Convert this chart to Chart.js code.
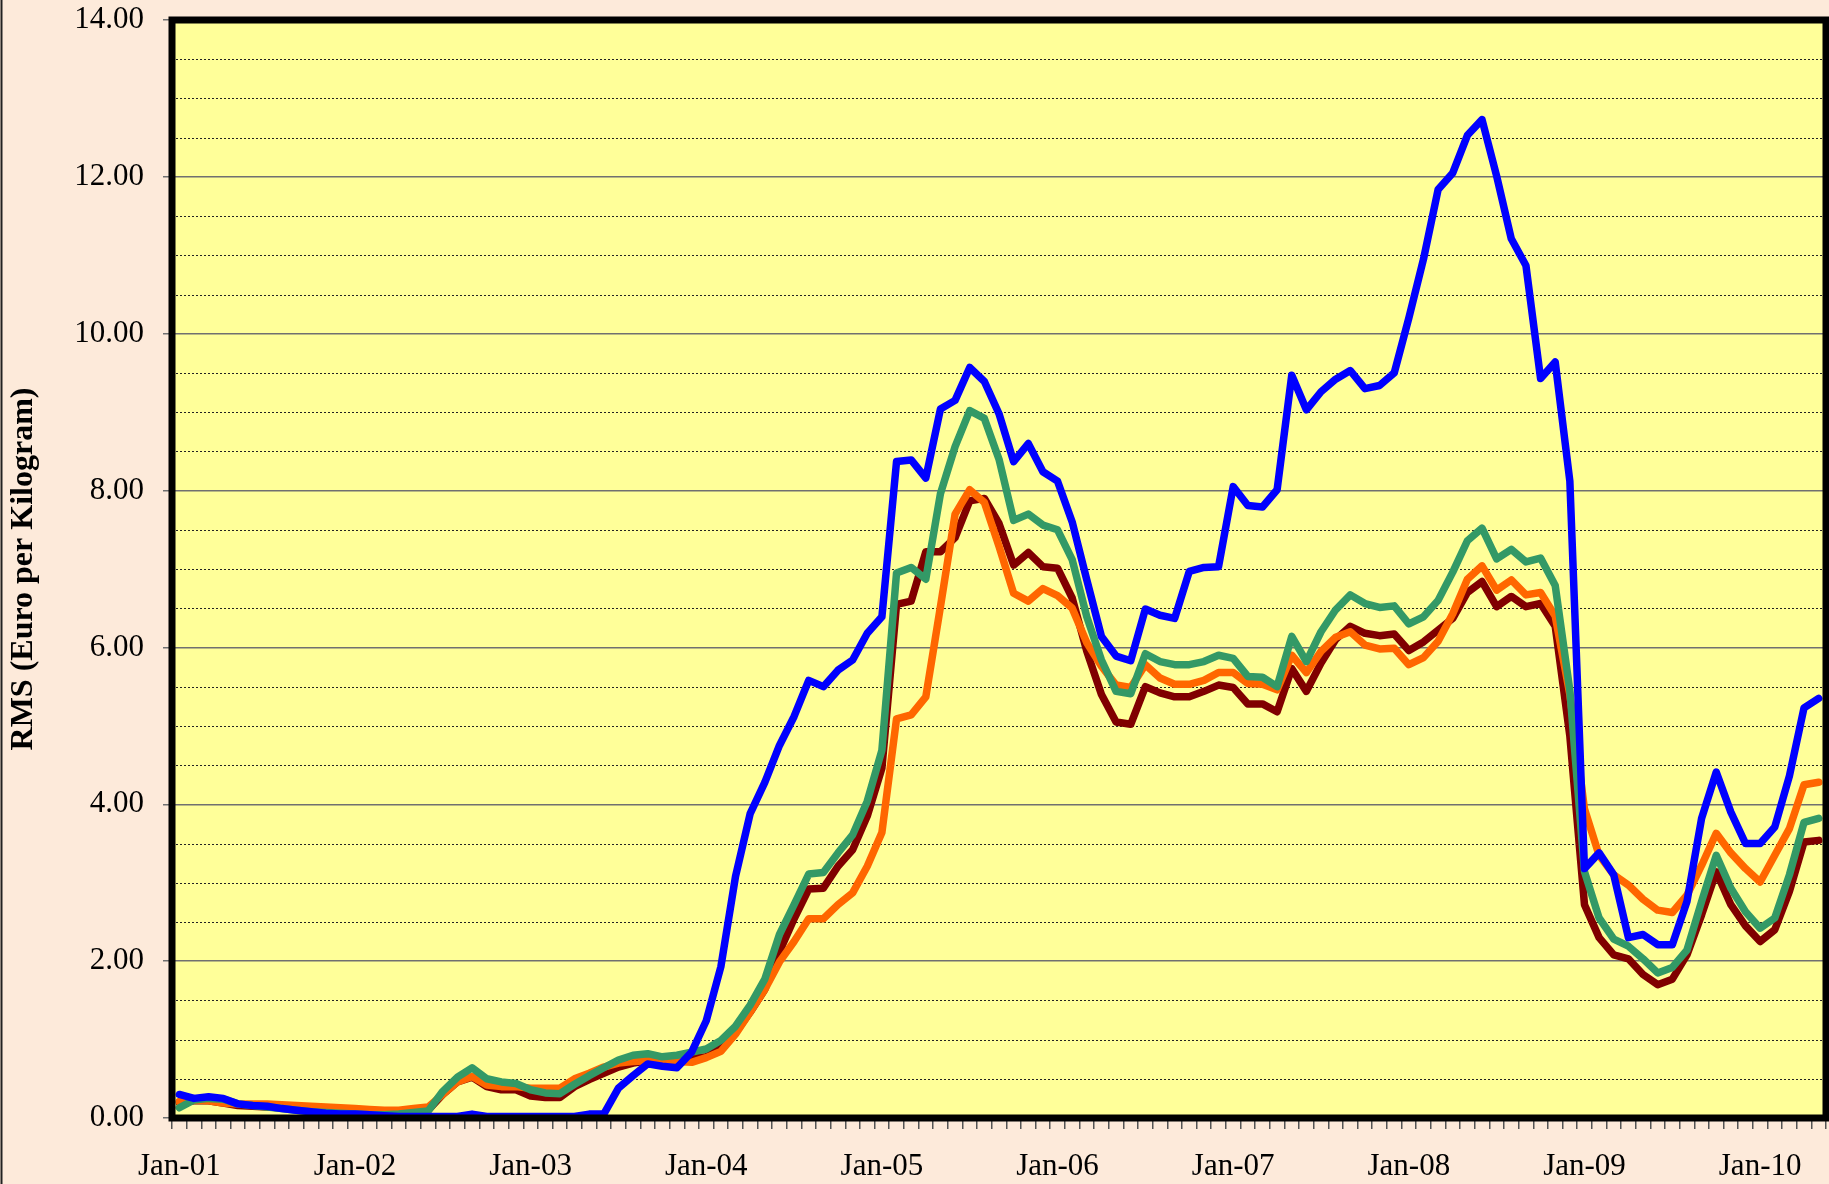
<!DOCTYPE html>
<html>
<head>
<meta charset="utf-8">
<title>RMS</title>
<script src="https://cdn.jsdelivr.net/npm/chart.js@4.4.0/dist/chart.umd.min.js"></script>
<style>
    html, body { margin: 0; padding: 0; background: #FDEADA; }
    canvas { display: block; }
</style>
</head>
<body>
<canvas id="rms-chart" width="1829" height="1184"></canvas>
<script>
// Datos mensuales, Jan-01 .. May-10
const meses = ['Jan', 'Feb', 'Mar', 'Apr', 'May', 'Jun', 'Jul', 'Aug', 'Sep', 'Oct', 'Nov', 'Dec'];
const anios = ['01', '02', '03', '04', '05', '06', '07', '08', '09', '10'];
const totalMeses = 113;

const serieAzul = [
    0.30, 0.25, 0.27, 0.25, 0.18, 0.16, 0.15, 0.12, 0.10, 0.08, 0.06, 0.05,
    0.05, 0.04, 0.03, 0.02, 0.02, 0.02, 0.02, 0.02, 0.05, 0.02, 0.02, 0.02,
    0.02, 0.02, 0.02, 0.02, 0.05, 0.05, 0.38, 0.54, 0.69, 0.66, 0.64, 0.84,
    1.24, 1.93, 3.08, 3.88, 4.28, 4.75, 5.12, 5.58, 5.50, 5.71, 5.84, 6.18,
    6.39, 8.37, 8.39, 8.16, 9.04, 9.15, 9.57, 9.39, 8.98, 8.37, 8.60, 8.24,
    8.12, 7.60, 6.86, 6.14, 5.89, 5.83, 6.49, 6.41, 6.37, 6.97, 7.02, 7.03,
    8.05, 7.81, 7.79, 8.01, 9.47, 9.03, 9.26, 9.42, 9.53, 9.30, 9.34, 9.50,
    10.20, 10.95, 11.84, 12.05, 12.53, 12.73, 12.01, 11.21, 10.87, 9.43, 9.64, 8.12,
    3.18, 3.38, 3.10, 2.30, 2.34, 2.21, 2.21, 2.76, 3.82, 4.41, 3.90, 3.50,
    3.50, 3.71, 4.36, 5.23, 5.35
];

const serieVerde = [
    0.13, 0.23, 0.25, 0.24, 0.18, 0.16, 0.14, 0.12, 0.10, 0.08, 0.07, 0.06,
    0.05, 0.04, 0.04, 0.05, 0.07, 0.09, 0.34, 0.52, 0.64, 0.50, 0.46, 0.44,
    0.36, 0.32, 0.31, 0.43, 0.54, 0.64, 0.74, 0.80, 0.82, 0.78, 0.80, 0.84,
    0.88, 0.99, 1.17, 1.44, 1.77, 2.34, 2.72, 3.11, 3.13, 3.38, 3.61, 4.04,
    4.69, 6.95, 7.02, 6.87, 7.96, 8.56, 9.02, 8.92, 8.40, 7.62, 7.70, 7.56,
    7.50, 7.12, 6.39, 5.84, 5.44, 5.41, 5.92, 5.82, 5.78, 5.78, 5.82, 5.90,
    5.86, 5.63, 5.62, 5.50, 6.14, 5.82, 6.20, 6.48, 6.67, 6.56, 6.51, 6.53,
    6.30, 6.39, 6.60, 6.96, 7.36, 7.52, 7.13, 7.25, 7.09, 7.14, 6.79, 5.45,
    3.14, 2.55, 2.28, 2.19, 2.03, 1.85, 1.92, 2.14, 2.76, 3.35, 2.93, 2.63,
    2.42, 2.55, 3.10, 3.77, 3.82
];

const serieNaranja = [
    0.21, 0.23, 0.22, 0.19, 0.18, 0.18, 0.18, 0.17, 0.16, 0.15, 0.14, 0.13,
    0.12, 0.11, 0.10, 0.10, 0.12, 0.14, 0.30, 0.46, 0.53, 0.42, 0.40, 0.40,
    0.38, 0.38, 0.38, 0.50, 0.57, 0.65, 0.70, 0.72, 0.73, 0.74, 0.72, 0.71,
    0.77, 0.85, 1.07, 1.35, 1.64, 1.99, 2.25, 2.54, 2.54, 2.72, 2.87, 3.21,
    3.64, 5.09, 5.14, 5.37, 6.52, 7.70, 8.01, 7.85, 7.29, 6.69, 6.59, 6.75,
    6.66, 6.50, 6.06, 5.76, 5.52, 5.49, 5.78, 5.61, 5.53, 5.53, 5.58, 5.68,
    5.68, 5.54, 5.53, 5.46, 5.90, 5.68, 5.95, 6.13, 6.20, 6.03, 5.98, 5.99,
    5.78, 5.87, 6.08, 6.43, 6.87, 7.04, 6.73, 6.86, 6.67, 6.70, 6.40, 5.40,
    3.94, 3.35, 3.10, 2.97, 2.79, 2.65, 2.62, 2.84, 3.22, 3.63, 3.38, 3.18,
    3.01, 3.35, 3.69, 4.25, 4.28
];

const serieGranate = [
    0.20, 0.22, 0.22, 0.19, 0.16, 0.15, 0.14, 0.13, 0.12, 0.11, 0.10, 0.09,
    0.08, 0.07, 0.07, 0.07, 0.09, 0.10, 0.30, 0.46, 0.52, 0.40, 0.36, 0.36,
    0.28, 0.26, 0.26, 0.40, 0.49, 0.57, 0.65, 0.70, 0.73, 0.75, 0.74, 0.76,
    0.78, 0.90, 1.09, 1.35, 1.64, 2.12, 2.54, 2.92, 2.93, 3.21, 3.42, 3.85,
    4.46, 6.55, 6.59, 7.22, 7.22, 7.40, 7.87, 7.90, 7.58, 7.05, 7.21, 7.03,
    7.01, 6.63, 5.95, 5.40, 5.05, 5.02, 5.50, 5.42, 5.37, 5.37, 5.44, 5.52,
    5.49, 5.28, 5.28, 5.18, 5.73, 5.44, 5.80, 6.10, 6.27, 6.18, 6.15, 6.17,
    5.96, 6.07, 6.22, 6.37, 6.70, 6.84, 6.52, 6.65, 6.52, 6.56, 6.27, 4.87,
    2.72, 2.30, 2.08, 2.03, 1.83, 1.70, 1.77, 2.08, 2.59, 3.14, 2.72, 2.45,
    2.25, 2.40, 2.89, 3.52, 3.54
];

const categorias = [];
for (let a = 0; a < anios.length; a++) {
    for (let m = 0; m < meses.length; m++) {
        if (categorias.length < totalMeses) categorias.push(meses[m] + '-' + anios[a]);
    }
}

const fuente = 'Liberation Serif, Times New Roman, serif';

// fondo, rejilla menor punteada y marco grueso
const marcoPlugin = {
    id: 'marco',
    beforeDraw(chart) {
        const { ctx, chartArea: a } = chart;
        ctx.save();
        ctx.fillStyle = '#FDEADA';
        ctx.fillRect(0, 0, chart.width, chart.height);
        ctx.fillStyle = '#FFFF99';
        ctx.fillRect(a.left, a.top, a.right - a.left, a.bottom - a.top);
        ctx.restore();
    },
    beforeDatasetsDraw(chart) {
        const { ctx, chartArea: a } = chart;
        const y = chart.scales.y;
        ctx.save();
        ctx.strokeStyle = '#222';
        ctx.lineWidth = 1;
        ctx.setLineDash([2, 2]);
        for (let v = 0.5; v < 14; v += 0.5) {
            if (v % 2 === 0) continue;
            const py = Math.round(y.getPixelForValue(v)) + 0.5;
            ctx.beginPath();
            ctx.moveTo(a.left, py);
            ctx.lineTo(a.right, py);
            ctx.stroke();
        }
        ctx.restore();
    },
    afterDraw(chart) {
        const { ctx, chartArea: a } = chart;
        ctx.save();
        ctx.strokeStyle = '#000';
        ctx.lineWidth = 7;
        ctx.lineJoin = 'miter';
        ctx.strokeRect(a.left, a.top, a.right - a.left, a.bottom - a.top);
        ctx.lineWidth = 2;
        ctx.strokeStyle = '#222';
        ctx.beginPath();
        ctx.moveTo(1.5, 0);
        ctx.lineTo(1.5, chart.height);
        ctx.stroke();
        ctx.restore();
    }
};

function linea(datos, color) {
    return {
        data: datos,
        borderColor: color,
        borderWidth: 7.5,
        pointRadius: 0,
        tension: 0,
        fill: false,
        borderJoinStyle: 'round',
        borderCapStyle: 'round'
    };
}

new Chart(document.getElementById('rms-chart'), {
    type: 'line',
    data: {
        labels: categorias,
        datasets: [
            linea(serieAzul, '#0000FF'),
            linea(serieVerde, '#339966'),
            linea(serieNaranja, '#FF6600'),
            linea(serieGranate, '#800000')
        ]
    },
    options: {
        responsive: false,
        animation: false,
        devicePixelRatio: 1,
        layout: { padding: { left: 0, right: 3, top: 20, bottom: 0 } },
        plugins: {
            legend: { display: false },
            tooltip: { enabled: false }
        },
        scales: {
            x: {
                type: 'category',
                offset: true,
                afterFit(s) {
                    s.height = 66;
                    s.paddingLeft = 0;
                    s.paddingRight = 0;
                },
                border: { display: false },
                grid: { offset: true, drawOnChartArea: false, tickLength: 11, color: '#555', lineWidth: 1.5 },
                ticks: {
                    autoSkip: false,
                    maxRotation: 0,
                    minRotation: 0,
                    padding: 19,
                    color: '#000',
                    font: { family: fuente, size: 31 },
                    callback: function(val, i) {
                        return i % 12 === 0 ? this.getLabelForValue(val) : '';
                    }
                }
            },
            y: {
                min: 0,
                max: 14,
                afterFit(s) {
                    s.width = 172;
                    s.paddingTop = 0;
                    s.paddingBottom = 0;
                },
                border: { display: false },
                grid: {
                    color: c => (c.tick && c.tick.value % 2 === 0) ? '#707070' : 'rgba(0,0,0,0)',
                    lineWidth: 1.5,
                    tickLength: 9
                },
                ticks: {
                    stepSize: 0.5,
                    autoSkip: false,
                    padding: 19,
                    color: '#000',
                    font: { family: fuente, size: 31 },
                    callback: v => v % 2 === 0 ? v.toFixed(2) : ''
                },
                title: {
                    display: true,
                    text: 'RMS (Euro per Kilogram)',
                    color: '#000',
                    font: { family: fuente, size: 32, weight: 'bold' },
                    padding: { top: 5, bottom: 0 }
                }
            }
        }
    },
    plugins: [marcoPlugin]
});
</script>
</body>
</html>
